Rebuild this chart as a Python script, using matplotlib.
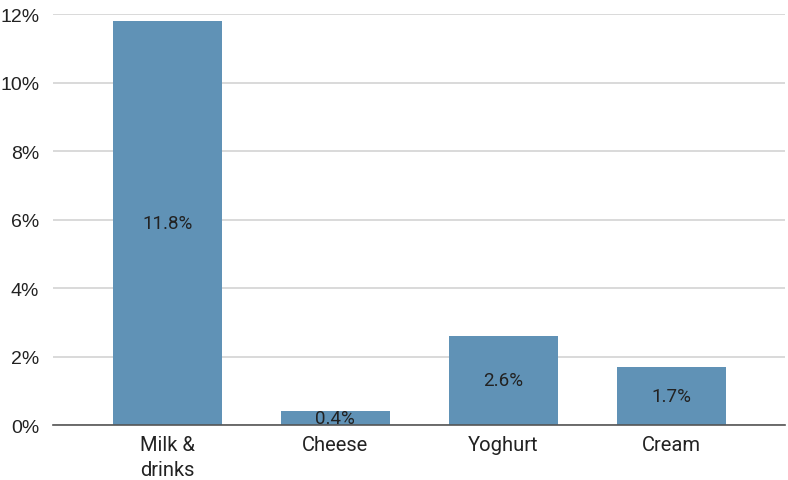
import matplotlib.pyplot as plt
import numpy as np

categories = ["Milk &\ndrinks", "Cheese", "Yoghurt", "Cream"]
values = [11.8, 0.4, 2.6, 1.7]
bar_labels = ["11.8%", "0.4%", "2.6%", "1.7%"]
y_ticks = [0, 2, 4, 6, 8, 10, 12]

fig = plt.figure(figsize=(7.88, 4.81), dpi=100)
ax = fig.add_axes([0.0673, 0.1143, 0.9287, 0.8545])

x = np.arange(len(categories))
bars = ax.bar(x, values, width=0.65, color="#6092b6", zorder=3)

for rect, lab in zip(bars, bar_labels):
    ax.text(rect.get_x() + rect.get_width() / 2, rect.get_height() / 2, lab,
            ha="center", va="center", fontsize=13.5, family="Roboto",
            color="#222222", zorder=4)

ax.set_xlim(-0.68, 3.675)
ax.set_ylim(0, 12)
ax.set_yticks(y_ticks)
ax.set_yticklabels([f"{t}%" for t in y_ticks], family="Liberation Sans", fontsize=14)
ax.set_xticks(x)
ax.set_xticklabels(categories, family="Roboto", fontsize=14.5, linespacing=1.4)
ax.tick_params(axis="both", length=0, colors="#222222")
ax.tick_params(axis="x", pad=7)
ax.tick_params(axis="y", pad=10)

ax.grid(axis="y", color="#d3d3d3", linewidth=1.2, zorder=0)
for s in ["top", "right", "left"]:
    ax.spines[s].set_visible(False)
ax.spines["bottom"].set_color("#555555")
ax.spines["bottom"].set_linewidth(1.2)
ax.spines["bottom"].set_zorder(5)

fig.savefig("out.png", dpi=100)
